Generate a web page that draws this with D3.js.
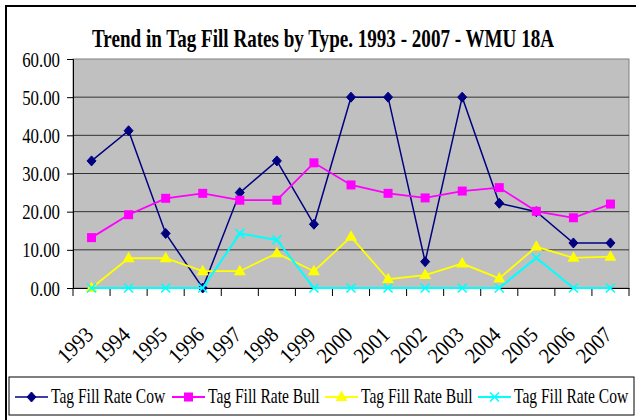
<!DOCTYPE html>
<html>
<head>
<meta charset="utf-8">
<script src="https://cdn.jsdelivr.net/npm/d3@7"></script>
<style>
  body { margin: 0; background: #fff; }
</style>
</head>
<body>
<div id="chart"></div>
<script>
var years = ["1993","1994","1995","1996","1997","1998","1999","2000","2001","2002","2003","2004","2005","2006","2007"];
var cowA  = [33.3, 41.2, 14.3, 0, 25.0, 33.3, 16.7, 50.0, 50.0, 6.9, 50.0, 22.2, 20.0, 11.8, 11.8];
var bullA = [13.2, 19.2, 23.5, 24.8, 23.0, 23.0, 32.8, 27.0, 24.8, 23.6, 25.4, 26.3, 20.1, 18.4, 22.0];
var bullB = [0, 7.8, 7.8, 4.4, 4.4, 9.1, 4.4, 13.4, 2.3, 3.4, 6.4, 2.5, 10.8, 7.9, 8.2];
var cowB  = [0, 0, 0, 0, 14.3, 12.6, 0, 0, 0, 0, 0, 0, 7.9, 0, 0];
var yTicks = [0, 10, 20, 30, 40, 50, 60];
var seriesNames = ["Tag Fill Rate Cow", "Tag Fill Rate Bull", "Tag Fill Rate Bull", "Tag Fill Rate Cow"];

var W = 636, H = 420;
var FONT = "'Liberation Serif', 'Times New Roman', serif";
var plot = { left: 73, top: 59, right: 629, bottom: 288 };

var svg = d3.select("#chart").append("svg")
  .attr("width", W).attr("height", H);

// outer frame
svg.append("rect").attr("x", 6).attr("y", 6).attr("width", 700).attr("height", 500)
  .attr("fill", "none").attr("stroke", "#000").attr("stroke-width", 2);

var x = d3.scaleBand().domain(years).range([plot.left, plot.right]);
var y = d3.scaleLinear().domain([0, 60]).range([plot.bottom, plot.top]);

// squeeze text horizontally like the narrow original
function squeeze(sel, k) {
  sel.each(function() {
    var n = this.getComputedTextLength();
    d3.select(this).attr("textLength", n * k).attr("lengthAdjust", "spacingAndGlyphs");
  });
}

// plot area
svg.append("rect").attr("x", plot.left).attr("y", plot.top)
  .attr("width", plot.right - plot.left).attr("height", plot.bottom - plot.top)
  .attr("fill", "#c0c0c0").attr("stroke", "#808080").attr("stroke-width", 1);

// gridlines
svg.append("g").selectAll("line").data(yTicks.slice(1, -1)).enter().append("line")
  .attr("x1", plot.left).attr("x2", plot.right)
  .attr("y1", function(d) { return y(d); }).attr("y2", function(d) { return y(d); })
  .attr("stroke", "#333").attr("stroke-width", 1);

// y axis
var yAxis = svg.append("g").attr("transform", "translate(" + plot.left + ",0)")
  .call(d3.axisLeft(y).tickValues(yTicks).tickSize(6).tickPadding(7).tickFormat(d3.format(".2f")));
yAxis.select(".domain").attr("stroke", "#000");
yAxis.selectAll("line").attr("stroke", "#000");
yAxis.selectAll("text").attr("font-size", 21).style("font-family", FONT).attr("fill", "#000")
  .attr("dy", "0.34em").call(squeeze, 0.8);

// x axis
var xAxis = svg.append("g").attr("transform", "translate(0," + plot.bottom + ")")
  .call(d3.axisBottom(x).tickSize(0).tickFormat(""));
xAxis.select(".domain").attr("stroke", "#000");
xAxis.selectAll(".tick").remove();
svg.append("g").selectAll("line").data(years.concat(["end"])).enter().append("line")
  .attr("x1", function(d, i) { return plot.left + i * x.step(); })
  .attr("x2", function(d, i) { return plot.left + i * x.step(); })
  .attr("y1", plot.bottom).attr("y2", plot.bottom + 8)
  .attr("stroke", "#000");

svg.append("g").selectAll("text").data(years).enter().append("text")
  .attr("transform", function(d) { return "translate(" + (x(d) + x.bandwidth() / 2 + 3) + "," + (plot.bottom + 48) + ") rotate(-45)"; })
  .attr("text-anchor", "end").attr("font-size", 22).style("font-family", FONT)
  .text(function(d) { return d; })
  .call(squeeze, 0.92);

// title
svg.append("text").attr("x", 92).attr("y", 47)
  .attr("font-size", 25).attr("font-weight", "bold").style("font-family", FONT)
  .text("Trend in Tag Fill Rates by Type. 1993 - 2007 - WMU 18A")
  .attr("textLength", 462).attr("lengthAdjust", "spacingAndGlyphs");

// series
var series = [
  { values: cowA,  color: "#000080", marker: "diamond", width: 1.5 },
  { values: bullA, color: "#ff00ff", marker: "square",  width: 1.8 },
  { values: bullB, color: "#ffff00", marker: "triangle", width: 1.8 },
  { values: cowB,  color: "#00ffff", marker: "x",       width: 2 }
];

function marker(g, type, color) {
  if (type === "diamond") {
    g.append("path").attr("d", "M0,-5L4.5,0L0,5L-4.5,0Z").attr("fill", color).attr("stroke", color);
  } else if (type === "square") {
    g.append("rect").attr("x", -4.5).attr("y", -4.5).attr("width", 9).attr("height", 9).attr("fill", color);
  } else if (type === "triangle") {
    g.append("path").attr("d", "M0,-6.5L6,4L-6,4Z").attr("fill", color);
  } else {
    g.append("path").attr("d", "M-4.5,-4.5L4.5,4.5M-4.5,4.5L4.5,-4.5").attr("stroke", color).attr("stroke-width", 1.6).attr("fill", "none");
  }
}

var line = d3.line()
  .x(function(d, i) { return x(years[i]) + x.bandwidth() / 2; })
  .y(function(d) { return y(d); });

series.forEach(function(s) {
  svg.append("path").datum(s.values).attr("d", line)
    .attr("fill", "none").attr("stroke", s.color).attr("stroke-width", s.width);
  svg.append("g").selectAll("g").data(s.values).enter().append("g")
    .attr("transform", function(d, i) { return "translate(" + (x(years[i]) + x.bandwidth() / 2) + "," + y(d) + ")"; })
    .each(function() { marker(d3.select(this), s.marker, s.color); });
});

// legend
svg.append("rect").attr("x", 9).attr("y", 377).attr("width", 625).attr("height", 38)
  .attr("fill", "#fff").attr("stroke", "#000").attr("stroke-width", 1);
var legX = [15, 172, 325, 478];
var leg = svg.append("g").selectAll("g").data(series).enter().append("g")
  .attr("transform", function(d, i) { return "translate(" + legX[i] + ",397)"; });
leg.append("line").attr("x1", 0).attr("x2", 33)
  .attr("stroke", function(d) { return d.color; }).attr("stroke-width", function(d) { return d.width; });
leg.append("g").attr("transform", "translate(16.5,0)")
  .each(function(d) { marker(d3.select(this), d.marker, d.color); });
leg.append("text").attr("x", 36).attr("y", 6).attr("font-size", 21).style("font-family", FONT)
  .text(function(d, i) { return seriesNames[i]; })
  .call(squeeze, 0.74);
</script>
</body>
</html>
